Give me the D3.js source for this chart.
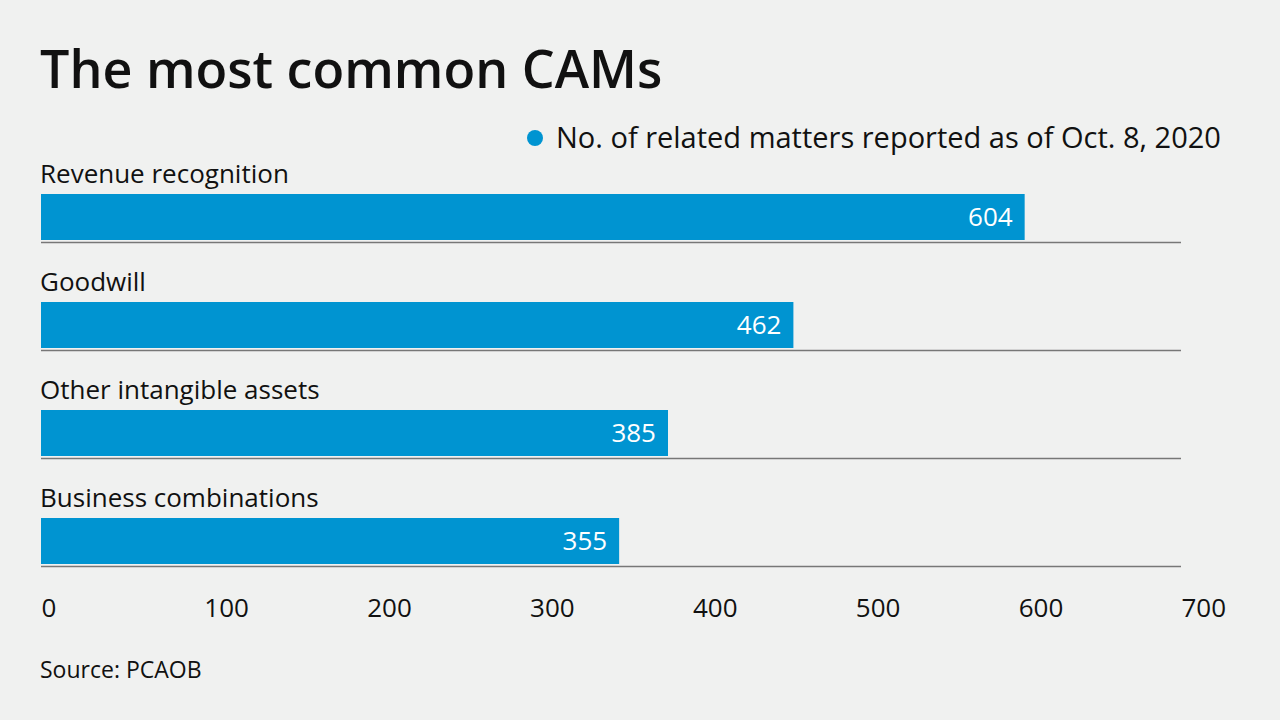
<!DOCTYPE html>
<html>
<head>
<meta charset="utf-8">
<script src="https://cdn.jsdelivr.net/npm/d3@7"></script>
<style>
  body { margin: 0; background: #f0f1f0; }
  svg { display: block; font-family: "Open Sans", "Lato", sans-serif; }
</style>
</head>
<body>
<svg id="chart" width="1280" height="720"></svg>
<script>
// chart data
var categories = ["Revenue recognition", "Goodwill", "Other intangible assets", "Business combinations"];
var values = [604, 462, 385, 355];
var tickValues = [0, 100, 200, 300, 400, 500, 600, 700];

var svg = d3.select("#chart");

svg.append("rect").attr("width", 1280).attr("height", 720).attr("fill", "#f0f1f0");

// title
svg.append("text")
    .attr("x", 40).attr("y", 88)
    .style("font-size", "52px").style("font-weight", "600")
    .attr("fill", "#111")
    .text("The most common CAMs");

// legend
svg.append("circle").attr("cx", 535).attr("cy", 138).attr("r", 8).attr("fill", "#0094d1");
svg.append("text")
    .attr("x", 556).attr("y", 148)
    .style("font-size", "29px")
    .attr("fill", "#111")
    .text("No. of related matters reported as of Oct. 8, 2020");

// scales
var x = d3.scaleLinear().domain([0, 700]).range([41, 1181]);
var y = d3.scaleBand().domain(categories).range([194, 626]).paddingInner(0).paddingOuter(0);
var barH = 46;

var rows = svg.selectAll(".row")
    .data(categories)
    .enter().append("g")
    .attr("class", "row")
    .attr("transform", function (d) { return "translate(0," + y(d) + ")"; });

// baseline under each bar
rows.append("line")
    .attr("x1", x(0)).attr("x2", x(700))
    .attr("y1", barH + 2.5).attr("y2", barH + 2.5)
    .attr("stroke", "#777").attr("stroke-width", 1.5);

rows.append("rect")
    .attr("x", x(0))
    .attr("y", 0)
    .attr("width", function (d, i) { return x(values[i]) - x(0); })
    .attr("height", barH)
    .attr("fill", "#0094d1");

rows.append("text")
    .attr("x", x(0) - 1).attr("y", -11)
    .style("font-size", "26px")
    .attr("fill", "#111")
    .text(function (d) { return d; });

rows.append("text")
    .attr("x", function (d, i) { return x(values[i]) - 12; })
    .attr("y", 32)
    .attr("text-anchor", "end")
    .style("font-size", "26px")
    .attr("fill", "#fff")
    .text(function (d, i) { return values[i]; });

// x axis, labels start at tick
var axis = svg.append("g")
    .attr("transform", "translate(0,617)")
    .call(d3.axisBottom(x).tickValues(tickValues).tickSize(0).tickPadding(0));
axis.select(".domain").remove();
axis.selectAll("text")
    .attr("text-anchor", "start")
    .attr("dy", 0)
    .attr("y", 0)
    .style("font-size", "26px")
    .style("font-family", "'Open Sans', Lato, sans-serif")
    .attr("fill", "#111");

// source
svg.append("text")
    .attr("x", 40).attr("y", 678)
    .style("font-size", "23px")
    .attr("fill", "#111")
    .text("Source: PCAOB");
</script>
</body>
</html>
